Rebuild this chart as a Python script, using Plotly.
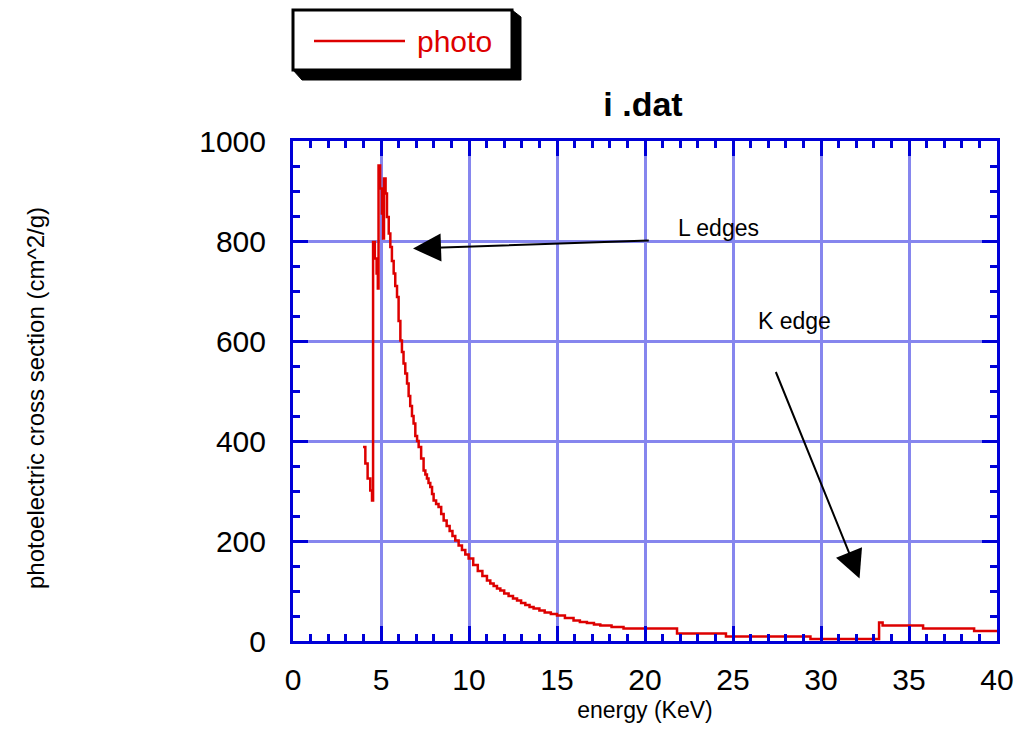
import plotly.graph_objects as go

# Photoelectric mass cross section of iodine, read as a stepped curve
energy_kev = [3.98, 4.11, 4.24, 4.39, 4.49,
              4.55, 4.65, 4.75, 4.82,
              4.86, 4.95, 5.05, 5.12,
              5.17, 5.26, 5.34, 5.44, 5.53, 5.62, 5.72, 5.81, 5.91, 6.00,
              6.10, 6.19, 6.28, 6.38, 6.48, 6.57, 6.66, 6.76, 6.85, 6.95,
              7.05, 7.14, 7.28, 7.42, 7.52, 7.61, 7.70, 7.80, 7.90, 7.99,
              8.13, 8.27, 8.42, 8.56, 8.73, 8.90, 9.06, 9.22, 9.41, 9.60,
              9.79, 9.98, 10.24, 10.5, 10.76, 11.02, 11.21, 11.4, 11.59,
              11.78, 12.0, 12.25, 12.5, 12.73, 12.96, 13.2, 13.44, 13.67,
              14.0, 14.3, 14.65, 15.0, 15.45, 15.94, 16.3, 16.7, 17.1,
              17.46, 18.1, 18.78, 21.82, 24.6, 29.4, 33.3, 33.5, 35.8,
              38.7, 40.0]
photo_cm2_g = [388, 355, 325, 301, 281,
               798, 765, 735, 705,
               951, 905, 855, 805,
               925, 895, 848, 815, 788, 760, 735, 710, 688, 640,
               601, 578, 555, 535, 515, 490, 470, 450, 435, 410,
               400, 388, 365, 341, 333, 325, 316, 308, 294, 281,
               274, 268, 254, 241, 230, 220, 210, 201, 191, 182,
               173, 165, 152, 140, 130, 121, 115, 110, 105,
               101, 95, 90, 85, 81, 76, 72, 68, 65,
               61, 57, 54, 51, 46, 41, 38, 36, 33,
               31, 28, 25, 15, 9, 4, 37, 31, 25,
               20, 20]

x_ticks = [0, 5, 10, 15, 20, 25, 30, 35, 40]
y_ticks = [0, 200, 400, 600, 800, 1000]

FONT = "Liberation Sans, Arial, Helvetica, sans-serif"
RED = "#dd0000"
FRAME = "#0000d8"
GRID = "#8686ee"

W, H = 1023, 733
ML, MR, MT, MB = 293, 26, 141, 92
PW, PH = W - ML - MR, H - MT - MB


def px(x):
    return (x - ML) / PW


def py(y):
    return (H - MB - y) / PH


fig = go.Figure()
fig.add_trace(go.Scatter(
    x=energy_kev, y=photo_cm2_g, mode="lines", name="photo",
    line=dict(color=RED, width=2.5, shape="hv"), showlegend=False,
))

axis_common = dict(
    showgrid=True, gridcolor=GRID, gridwidth=3,
    showline=True, linecolor=FRAME, linewidth=3, mirror="allticks",
    ticks="inside", ticklen=15, tickwidth=3, tickcolor=FRAME,
    zeroline=False,
    tickfont=dict(family=FONT, size=30, color="black"),
)

fig.update_xaxes(
    range=[0, 40], tickvals=x_ticks, ticktext=[str(v) for v in x_ticks],
    minor=dict(dtick=1, tick0=0, ticks="inside", ticklen=7, tickwidth=3,
               tickcolor=FRAME, showgrid=False),
    ticklabelstandoff=10,
    title=dict(text="energy (KeV)", font=dict(family=FONT, size=23, color="black"),
               standoff=7),
    **axis_common,
)
fig.update_yaxes(
    range=[0, 1000], tickvals=y_ticks, ticktext=[str(v) for v in y_ticks],
    minor=dict(dtick=50, tick0=0, ticks="inside", ticklen=7, tickwidth=3,
               tickcolor=FRAME, showgrid=False),
    ticklabelstandoff=18,
    **axis_common,
)

shapes = []
# legend box with its drop shadow
shadow = [(512, 10), (521, 17), (521, 80), (302, 80), (293, 70)]
path = "M " + " L ".join(f"{px(a):.5f},{py(b):.5f}" for a, b in shadow) + " Z"
shapes.append(dict(type="path", xref="paper", yref="paper", path=path,
                   fillcolor="black", line=dict(color="black", width=1), layer="above"))
shapes.append(dict(type="rect", xref="paper", yref="paper",
                   x0=px(293), x1=px(512), y0=py(70), y1=py(10),
                   fillcolor="white", line=dict(color="black", width=3), layer="above"))
shapes.append(dict(type="line", xref="paper", yref="paper",
                   x0=px(314), x1=px(405), y0=py(41), y1=py(41),
                   line=dict(color=RED, width=2.5), layer="above"))

annotations = [
    dict(xref="paper", yref="paper", x=px(415), y=py(41), xanchor="left",
         yanchor="middle", text="photo", showarrow=False,
         font=dict(family=FONT, size=30, color=RED)),
    dict(xref="paper", yref="paper", x=px(35), y=py(398), textangle=-90,
         text="photoelectric cross section (cm^2/g)", showarrow=False,
         xanchor="center", yanchor="middle",
         font=dict(family=FONT, size=24, color="black")),
    dict(x=24.2, y=826, text="L edges", showarrow=False,
         font=dict(family=FONT, size=23, color="black")),
    dict(x=28.5, y=640, text="K edge", showarrow=False,
         font=dict(family=FONT, size=23, color="black")),
    dict(x=6.82, y=785, ax=20.3, ay=801, axref="x", ayref="y", text="",
         showarrow=True, arrowhead=2, arrowsize=2.8, arrowwidth=2, arrowcolor="black"),
    dict(x=32.19, y=125, ax=27.4, ay=541, axref="x", ayref="y", text="",
         showarrow=True, arrowhead=2, arrowsize=2.8, arrowwidth=2, arrowcolor="black"),
]

fig.update_layout(
    width=W, height=H,
    margin=dict(l=ML, r=MR, t=MT, b=MB, autoexpand=False),
    paper_bgcolor="white", plot_bgcolor="white",
    title=dict(text="<b>i .dat</b>", x=643 / W, xanchor="center",
               y=1 - 104 / H, yanchor="middle",
               font=dict(family=FONT, size=34, color="black")),
    shapes=shapes, annotations=annotations,
    font=dict(family=FONT),
)

fig.write_html("out.html")
